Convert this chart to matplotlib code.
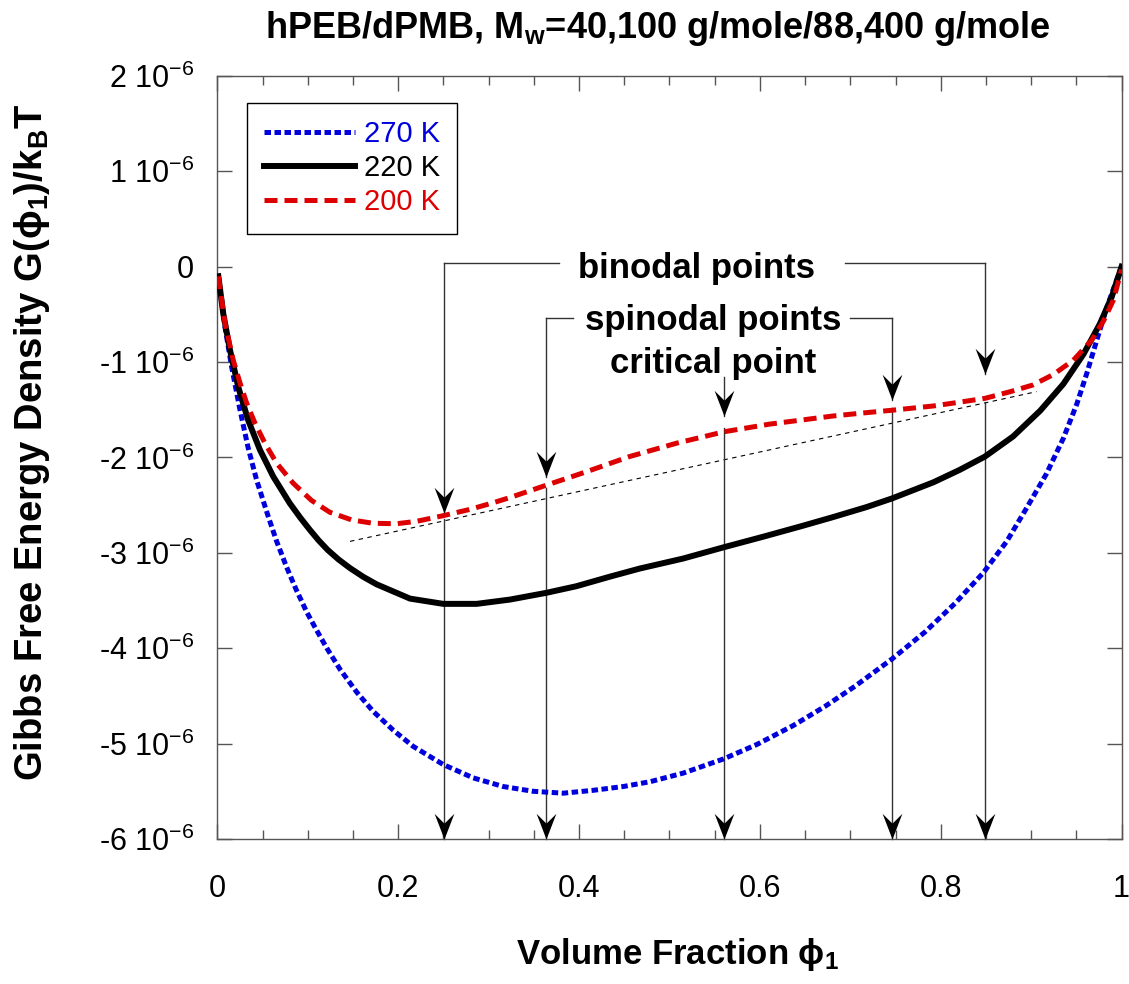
import matplotlib
matplotlib.use("Agg")
import matplotlib.pyplot as plt
import numpy as np
from matplotlib.path import Path
from matplotlib.ticker import MultipleLocator, FuncFormatter

plt.rcParams["font.family"] = ["Liberation Sans", "DejaVu Sans"]
plt.rcParams["mathtext.fontset"] = "custom"
plt.rcParams["mathtext.rm"] = "Liberation Sans"
plt.rcParams["mathtext.it"] = "Liberation Sans:italic"
plt.rcParams["mathtext.bf"] = "Liberation Sans:bold"

SCALE = 1e-6  # all G values below are in units of 1e-6

# 270 K
phi_270 = [0.001, 0.0083, 0.0157, 0.0249, 0.034, 0.0434, 0.0562, 0.0655, 0.0765, 0.0868,
           0.0987, 0.109, 0.121, 0.1355, 0.154, 0.172, 0.1945, 0.2166, 0.2498, 0.283,
           0.316, 0.349, 0.3825, 0.4157, 0.449, 0.4784, 0.515, 0.560, 0.5965, 0.637,
           0.672, 0.705, 0.7465, 0.7826, 0.8158, 0.847, 0.873, 0.895, 0.917, 0.9356,
           0.9505, 0.9615, 0.9726, 0.9836, 0.993, 1.0]
G_270 = [-0.10, -0.63, -1.05, -1.50, -1.90, -2.24, -2.62, -2.88, -3.15, -3.38,
         -3.62, -3.80, -4.00, -4.22, -4.46, -4.66, -4.86, -5.03, -5.22, -5.36,
         -5.45, -5.50, -5.52, -5.49, -5.45, -5.40, -5.31, -5.16, -5.01, -4.81,
         -4.61, -4.40, -4.11, -3.83, -3.53, -3.21, -2.88, -2.53, -2.17, -1.80,
         -1.44, -1.12, -0.77, -0.43, -0.18, 0.0]

# 220 K
phi_220 = [0.001, 0.0064, 0.0138, 0.023, 0.034, 0.047, 0.0617, 0.080, 0.0915, 0.1023,
           0.112, 0.122, 0.134, 0.1466, 0.161, 0.176, 0.213, 0.2498, 0.2867, 0.3236,
           0.3634, 0.397, 0.434, 0.467, 0.515, 0.5606, 0.604, 0.646, 0.681, 0.718,
           0.746, 0.792, 0.821, 0.849, 0.880, 0.910, 0.9356, 0.9577, 0.976, 0.989, 1.0]
G_220 = [-0.10, -0.49, -0.87, -1.26, -1.61, -1.92, -2.20, -2.48, -2.63, -2.76,
         -2.87, -2.97, -3.07, -3.16, -3.25, -3.33, -3.48, -3.535, -3.535, -3.49,
         -3.42, -3.35, -3.25, -3.165, -3.06, -2.94, -2.83, -2.72, -2.625, -2.52,
         -2.43, -2.26, -2.13, -1.99, -1.78, -1.51, -1.23, -0.92, -0.60, -0.32, 0.0]

# 200 K
phi_200 = [0.001, 0.0083, 0.0175, 0.025, 0.0323, 0.0415, 0.0525, 0.0655, 0.0838, 0.104,
           0.1244, 0.1485, 0.172, 0.198, 0.220, 0.2498, 0.279, 0.305, 0.3236, 0.364,
           0.408, 0.456, 0.508, 0.5606, 0.611, 0.644, 0.681, 0.718, 0.746, 0.792,
           0.821, 0.849, 0.877, 0.902, 0.9246, 0.9467, 0.967, 0.980, 0.991, 1.0]
G_200 = [-0.10, -0.59, -0.98, -1.22, -1.43, -1.64, -1.85, -2.06, -2.27, -2.45,
         -2.575, -2.655, -2.69, -2.695, -2.67, -2.61, -2.545, -2.475, -2.42, -2.29,
         -2.15, -1.99, -1.85, -1.73, -1.65, -1.61, -1.565, -1.53, -1.505, -1.46,
         -1.42, -1.38, -1.31, -1.24, -1.13, -0.98, -0.77, -0.57, -0.35, -0.03]

# common tangent (200 K)
tangent_phi = [0.1466, 0.906]
tangent_G = [-2.88, -1.31]

# marked points
binodal_phi = [0.251, 0.849]
binodal_tip = [-2.58, -1.13]
binodal_low = [-2.65, -1.42]
spinodal_phi = [0.363, 0.746]
spinodal_tip = [-2.20, -1.40]
spinodal_low = [-2.32, -1.48]
critical_phi = 0.560
critical_top = -1.16
critical_tip = -1.57
critical_low = -1.69

ymin, ymax = -6, 2
yticks = [2, 1, 0, -1, -2, -3, -4, -5, -6]

fig = plt.figure(figsize=(11.29, 9.84), dpi=100)
ax = fig.add_axes([0.1926, 0.1474, 0.8008, 0.7754])

ax.plot(phi_270, np.array(G_270) * SCALE, color="#0000dd", lw=3.6,
        ls=(0, (1.3, 0.7)), label="270 K", zorder=3)
ax.plot(phi_220, np.array(G_220) * SCALE, color="black", lw=4.3,
        label="220 K", zorder=3)
ax.plot(phi_200, np.array(G_200) * SCALE, color="#dd0000", lw=3.6,
        ls=(0, (2.6, 1.4)), label="200 K", zorder=4)
ax.plot(tangent_phi, np.array(tangent_G) * SCALE, color="black", lw=0.8,
        ls=(0, (4, 4)), zorder=2)

# arrow head marker (tip at origin, pointing down)
head = Path([(0, 0), (-10, 26), (0, 16), (10, 26), (0, 0)],
            [Path.MOVETO, Path.LINETO, Path.LINETO, Path.LINETO, Path.CLOSEPOLY])
lc = "#333333"


def down_arrow(x, y0, y1):
    ax.plot([x, x], [y0 * SCALE, y1 * SCALE], color=lc, lw=1, zorder=2, clip_on=False)
    ax.plot([x], [y1 * SCALE], marker=head, markersize=37, color="black",
            markeredgewidth=0, zorder=5, clip_on=False)


bin_y = 0.04
spi_y = -0.54
for x, tip, low in zip(binodal_phi, binodal_tip, binodal_low):
    down_arrow(x, bin_y, tip)
    down_arrow(x, low, ymin)
for x, tip, low in zip(spinodal_phi, spinodal_tip, spinodal_low):
    down_arrow(x, spi_y, tip)
    down_arrow(x, low, ymin)
down_arrow(critical_phi, critical_top, critical_tip)
down_arrow(critical_phi, critical_low, ymin)

# bracket lines around the labels
ax.plot([binodal_phi[0], 0.378], [bin_y * SCALE] * 2, color=lc, lw=1)
ax.plot([0.694, binodal_phi[1]], [bin_y * SCALE] * 2, color=lc, lw=1)
ax.plot([spinodal_phi[0], 0.393], [spi_y * SCALE] * 2, color=lc, lw=1)
ax.plot([0.700, spinodal_phi[1]], [spi_y * SCALE] * 2, color=lc, lw=1)

ax.text(0.5304, -0.115 * SCALE, "binodal points", ha="center", va="baseline",
        fontsize=25, fontweight="bold")
ax.text(0.5485, -0.66 * SCALE, "spinodal points", ha="center", va="baseline",
        fontsize=25, fontweight="bold")
ax.text(0.548, -1.11 * SCALE, "critical point", ha="center", va="baseline",
        fontsize=25, fontweight="bold")

ax.set_xlim(0, 1)
ax.set_ylim(ymin * SCALE, ymax * SCALE)
ax.xaxis.set_major_locator(MultipleLocator(0.2))
ax.xaxis.set_minor_locator(MultipleLocator(0.05))
ax.xaxis.set_major_formatter(FuncFormatter(lambda v, p: "%g" % round(v, 2)))
ax.set_yticks([t * SCALE for t in yticks])
ax.set_yticklabels(["0" if t == 0 else r"%d 10$^{\mathregular{-6}}$" % t for t in yticks])
ax.tick_params(which="both", direction="in", top=True, right=True,
               color="#555555", width=1, labelsize=22)
ax.tick_params(which="major", length=11)
ax.tick_params(which="minor", length=6.5)
ax.tick_params(axis="x", pad=25)
ax.tick_params(axis="y", pad=17)
for s in ax.spines.values():
    s.set_color("#555555")
    s.set_linewidth(1)

leg = ax.legend(loc="upper left", bbox_to_anchor=(0.0326, 0.9646), borderaxespad=0,
                fontsize=21, labelcolor="linecolor", fancybox=False, edgecolor="black",
                framealpha=1, handlelength=3.1, handletextpad=0.3, labelspacing=0.2,
                borderpad=0.6)
leg.get_frame().set_linewidth(1)

fig.text(0.583, 0.9715, r"hPEB/dPMB, M$_{\mathbf{w}}$=40,100 g/mole/88,400 g/mole",
         ha="center", va="center", fontsize=26, fontweight="bold",
         family=["Liberation Sans Narrow", "Liberation Sans"])
fig.text(0.5997, 0.0295, r"Volume Fraction ϕ$_{\mathbf{1}}$", ha="center", va="center",
         fontsize=25, fontweight="bold")
fig.text(0.028, 0.55, r"Gibbs Free Energy Density G(ϕ$_{\mathbf{1}}$)/k$_{\mathbf{B}}$T",
         ha="center", va="center", rotation=90, fontsize=27.5, fontweight="bold")

fig.savefig("out.png", dpi=100)
